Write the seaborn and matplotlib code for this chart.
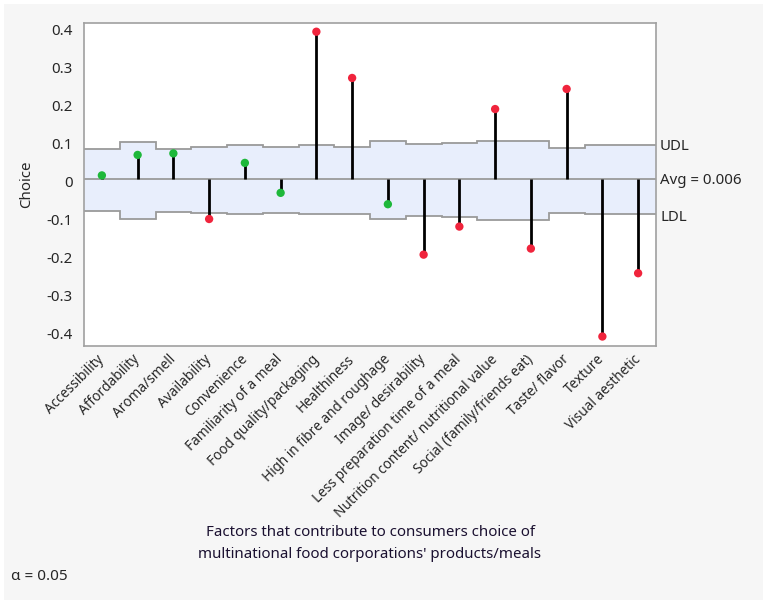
import seaborn as sns
import matplotlib.pyplot as plt
import matplotlib.patches as mpatches
import numpy as np
import pandas as pd

factors = ['Accessibility', 'Affordability', 'Aroma/smell', 'Availability', 'Convenience',
           'Familiarity of a meal', 'Food quality/packaging', 'Healthiness',
           'High in fibre and roughage', 'Image/ desirability', 'Less preparation time of a meal',
           'Nutrition content/ nutritional value', 'Social (family/friends eat)', 'Taste/ flavor',
           'Texture', 'Visual aesthetic']
choice = [0.016, 0.070, 0.074, -0.099, 0.049, -0.030, 0.395, 0.273,
          -0.060, -0.193, -0.119, 0.191, -0.177, 0.244, -0.409, -0.242]
udl = [0.086, 0.105, 0.086, 0.092, 0.095, 0.092, 0.095, 0.092,
       0.107, 0.098, 0.102, 0.106, 0.106, 0.088, 0.095, 0.095]
ldl = [-0.079, -0.098, -0.081, -0.084, -0.087, -0.083, -0.087, -0.085,
       -0.100, -0.090, -0.095, -0.101, -0.101, -0.082, -0.086, -0.086]
avg = 0.006

sns.set_style("white")
plt.rcParams['font.family'] = ['Noto Sans', 'DejaVu Sans']

df = pd.DataFrame({'factor': factors, 'choice': choice, 'udl': udl, 'ldl': ldl})
df['pos'] = np.arange(len(df))
df['status'] = np.where((df['choice'] > df['udl']) | (df['choice'] < df['ldl']), 'out', 'in')

fig = plt.figure(figsize=(7.67, 6.04), dpi=100, facecolor='white')
fig.patches.append(mpatches.Rectangle((4 / 767, 4 / 604), 759 / 767, 596 / 604,
                                      transform=fig.transFigure, facecolor='#f6f6f6',
                                      edgecolor='none', zorder=-10))
ax = fig.add_axes([84 / 767, 1 - 346 / 604, 572 / 767, 323 / 604])
ax.set_facecolor('white')

# decision limit band
edges = np.arange(len(df) + 1) - 0.5
ax.stairs(df['udl'], edges, baseline=df['ldl'], fill=True, color='#e8eefc', zorder=1)
ax.stairs(df['udl'], edges, baseline=None, color='#9a9a9a', lw=1.3, zorder=2)
ax.stairs(df['ldl'], edges, baseline=None, color='#9a9a9a', lw=1.3, zorder=2)
ax.axhline(avg, color='#9a9a9a', lw=1.3, zorder=2)

# needles + points
ax.vlines(df['pos'], avg, df['choice'], color='black', lw=2.0, zorder=3)
sns.scatterplot(data=df, x='pos', y='choice', hue='status',
                palette={'in': '#1eb83a', 'out': '#f0243c'}, s=36,
                edgecolor='none', legend=False, zorder=4, ax=ax)

ax.set_xlim(-0.5, len(df) - 0.5)
ax.set_ylim(-0.434, 0.418)
ax.set_yticks([0.4, 0.3, 0.2, 0.1, 0, -0.1, -0.2, -0.3, -0.4])
ax.set_yticklabels(['0.4', '0.3', '0.2', '0.1', '0', '-0.1', '-0.2', '-0.3', '-0.4'])
ax.set_xticks(df['pos'])
ax.set_xticklabels(df['factor'], rotation=45, ha='right', va='center',
                   rotation_mode='anchor', fontsize=9.8)
ax.tick_params(axis='y', length=6, color='#888888', labelsize=10.8, pad=2)
ax.tick_params(axis='x', length=0, pad=8)
for sp in ax.spines.values():
    sp.set_color('#a0a0a0')
    sp.set_linewidth(1.2)

ax.set_xlabel('')
ax.set_ylabel('Choice', fontsize=10.8, labelpad=9)

tr = ax.get_yaxis_transform()
ax.text(1.007, df['udl'].iloc[-1] - 0.003, 'UDL', transform=tr, va='center', ha='left', fontsize=10.8)
ax.text(1.007, avg - 0.003, 'Avg = 0.006', transform=tr, va='center', ha='left', fontsize=10.8)
ax.text(1.007, df['ldl'].iloc[-1] - 0.008, 'LDL', transform=tr, va='center', ha='left', fontsize=10.8)

fig.text(370 / 767, 1 - 532 / 604, "Factors that contribute to consumers choice of",
         ha='center', va='center', fontsize=10.8, color='#1a1030')
fig.text(370 / 767, 1 - 554 / 604, "multinational food corporations' products/meals",
         ha='center', va='center', fontsize=10.8, color='#1a1030')
fig.text(11 / 767, 1 - 577 / 604, 'α = 0.05', ha='left', va='center', fontsize=11)

fig.savefig('out.png', dpi=100, facecolor=fig.get_facecolor())
